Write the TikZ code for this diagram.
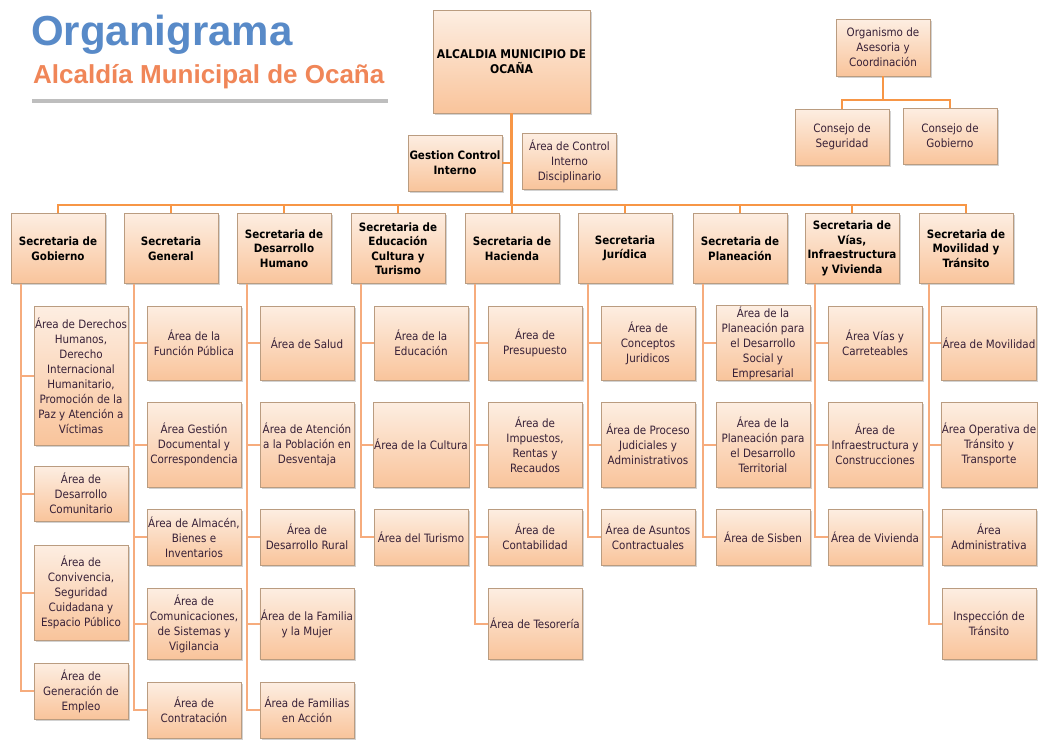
\documentclass[tikz,border=0pt]{standalone}
\usepackage{fontspec}
\setmainfont{DejaVu Sans Condensed}
\newfontfamily\titlefont{Liberation Sans}
\usetikzlibrary{shadows}

\definecolor{boxtop}{RGB}{253,238,226}
\definecolor{boxbottom}{RGB}{249,196,155}
\definecolor{boxline}{RGB}{186,156,128}
\definecolor{linkmain}{RGB}{247,150,70}
\definecolor{linksub}{RGB}{246,172,125}
\definecolor{areatext}{RGB}{55,32,55}
\definecolor{titleblue}{RGB}{88,138,200}
\definecolor{titleorange}{RGB}{240,134,88}
\definecolor{rulegray}{RGB}{190,190,190}

\tikzset{
  box/.style={draw=boxline, line width=0.6pt, top color=boxtop, bottom color=boxbottom,
    drop shadow={shadow xshift=1.5pt, shadow yshift=-1.5pt, opacity=0.35},
    align=center, inner sep=1pt, minimum width=94pt, minimum height=56pt,
    font=\fontsize{11.5}{15}\selectfont},
  secbox/.style={box, minimum height=70pt, font=\bfseries\fontsize{11.5}{14.5}\selectfont},
  areabox/.style={box, text=areatext, minimum height=#1},
  areabox/.default=56pt,
  main/.style={draw=linkmain, line width=2.5pt},
  sub/.style={draw=linksub, line width=2pt},
}

\begin{document}
\begin{tikzpicture}[x=1pt, y=-1pt]
  \fill[white] (0,0) rectangle (1038,740);
  \useasboundingbox (0,0) rectangle (1038,740);

  % title
  \node [anchor=base west, inner sep=0pt, text=titleblue,
    font=\titlefont\bfseries\fontsize{42}{42}\selectfont] (title) at (31,45) {Organigrama};
  \node [anchor=base west, inner sep=0pt, text=titleorange,
    font=\titlefont\bfseries\fontsize{26}{26}\selectfont] (subtitle) at (33,83) {Alcaldía Municipal de Ocaña};
  \draw [rulegray, line width=4pt] (32,101) -- (388,101);

  % top
  \node [box, minimum width=157pt, minimum height=103pt, font=\bfseries\fontsize{12}{15.5}\selectfont]
    (alc) at (511.5,61.5) {ALCALDIA MUNICIPIO DE\\OCAÑA};
  \node [box, font=\bfseries\fontsize{11.5}{15}\selectfont] (gci) at (455,163) {Gestion Control\\Interno};
  \node [areabox] (acid) at (569.5,161) {Área de Control\\Interno\\Disciplinario};
  \node [areabox=57pt] (org) at (883,47.5) {Organismo de\\Asesoria y\\Coordinación};
  \node [areabox] (cseg) at (842,137) {Consejo de\\Seguridad};
  \node [areabox] (cgob) at (950,136) {Consejo de\\Gobierno};

  % secretarias
  \node [secbox] (sgob) at (58,248.5) {Secretaria de\\Gobierno};
  \node [secbox] (sgen) at (171,248.5) {Secretaria\\General};
  \node [secbox] (sdh) at (284,248.5) {Secretaria de\\Desarrollo\\Humano};
  \node [secbox] (sedu) at (398,248.5) {Secretaria de\\Educación\\Cultura y\\Turismo};
  \node [secbox] (shac) at (512,248.5) {Secretaria de\\Hacienda};
  \node [secbox] (sjur) at (625,248.5) {Secretaria\\Jurídica};
  \node [secbox] (spla) at (740,248.5) {Secretaria de\\Planeación};
  \node [secbox] (svia) at (852,248.5) {Secretaria de\\Vías,\\Infraestructura\\y Vivienda};
  \node [secbox] (smov) at (966,248.5) {Secretaria de\\Movilidad y\\Tránsito};

  % areas de gobierno
  \node [areabox=139pt] (gob1) at (81,375.5) {Área de Derechos\\Humanos,\\Derecho\\Internacional\\Humanitario,\\Promoción de la\\Paz y Atención a\\Víctimas};
  \node [areabox=55pt] (gob2) at (81,493.5) {Área de\\Desarrollo\\Comunitario};
  \node [areabox=95pt] (gob3) at (81,592.5) {Área de\\Convivencia,\\Seguridad\\Cuidadana y\\Espacio Público};
  \node [areabox] (gob4) at (81,691) {Área de\\Generación de\\Empleo};

  % areas general
  \node [areabox=74pt] (gen1) at (194,343) {Área de la\\Función Pública};
  \node [areabox=85pt] (gen2) at (194,444.5) {Área Gestión\\Documental y\\Correspondencia};
  \node [areabox] (gen3) at (194,537) {Área de Almacén,\\Bienes e\\Inventarios};
  \node [areabox=71pt] (gen4) at (194,623.5) {Área de\\Comunicaciones,\\de Sistemas y\\Vigilancia};
  \node [areabox] (gen5) at (194,710) {Área de\\Contratación};

  % areas desarrollo humano
  \node [areabox=74pt] (dh1) at (307,343) {Área de Salud};
  \node [areabox=85pt] (dh2) at (307,444.5) {Área de Atención\\a la Población en\\Desventaja};
  \node [areabox] (dh3) at (307,537) {Área de\\Desarrollo Rural};
  \node [areabox=71pt] (dh4) at (307,623.5) {Área de la Familia\\y la Mujer};
  \node [areabox] (dh5) at (307,710) {Área de Familias\\en Acción};

  % areas educacion
  \node [areabox=74pt] (edu1) at (421,343) {Área de la\\Educación};
  \node [areabox=85pt] (edu2) at (421,444.5) {Área de la Cultura};
  \node [areabox] (edu3) at (421,537) {Área del Turismo};

  % areas hacienda
  \node [areabox=74pt] (hac1) at (535,343) {Área de\\Presupuesto};
  \node [areabox=85pt] (hac2) at (535,444.5) {Área de\\Impuestos,\\Rentas y\\Recaudos};
  \node [areabox] (hac3) at (535,537) {Área de\\Contabilidad};
  \node [areabox=71pt] (hac4) at (535,623.5) {Área de Tesorería};

  % areas juridica
  \node [areabox=74pt] (jur1) at (648,343) {Área de\\Conceptos\\Juridicos};
  \node [areabox=85pt] (jur2) at (648,444.5) {Área de Proceso\\Judiciales y\\Administrativos};
  \node [areabox] (jur3) at (648,537) {Área de Asuntos\\Contractuales};

  % areas planeacion
  \node [areabox=74pt] (pla1) at (763,343) {Área de la\\Planeación para\\el Desarrollo\\Social y\\Empresarial};
  \node [areabox=85pt] (pla2) at (763,444.5) {Área de la\\Planeación para\\el Desarrollo\\Territorial};
  \node [areabox] (pla3) at (763,537) {Área de Sisben};

  % areas vias
  \node [areabox=74pt] (via1) at (875,343) {Área Vías y\\Carreteables};
  \node [areabox=85pt] (via2) at (875,444.5) {Área de\\Infraestructura y\\Construcciones};
  \node [areabox] (via3) at (875,537) {Área de Vivienda};

  % areas movilidad
  \node [areabox=74pt] (mov1) at (989,343) {Área de Movilidad};
  \node [areabox=85pt] (mov2) at (989,444.5) {Área Operativa de\\Tránsito y\\Transporte};
  \node [areabox] (mov3) at (989,537) {Área\\Administrativa};
  \node [areabox=71pt] (mov4) at (989,623.5) {Inspección de\\Tránsito};

  % connectors
  \coordinate (bus) at (511.5,205);
  \coordinate (orgbus) at (883,100);
  \draw [main] (alc.south) -- (bus);
  \draw [main] (gci.east) -- (gci.east -| alc.south);
  \foreach \s in {gob,gen,dh,edu,hac,jur,pla,via,mov}
    \draw [main] (bus) -| (s\s.north);
  \draw [main] (org.south) -- (orgbus) -| (cseg.north);
  \draw [main] (orgbus) -| (cgob.north);
  \foreach \s/\n in {gob/4,gen/5,dh/5,edu/3,hac/4,jur/3,pla/3,via/3,mov/4}
    \foreach \i in {1,...,\n}
      \draw [sub] ([xshift=10pt]s\s.south west) |- (\s\i.west);
\end{tikzpicture}
\end{document}
